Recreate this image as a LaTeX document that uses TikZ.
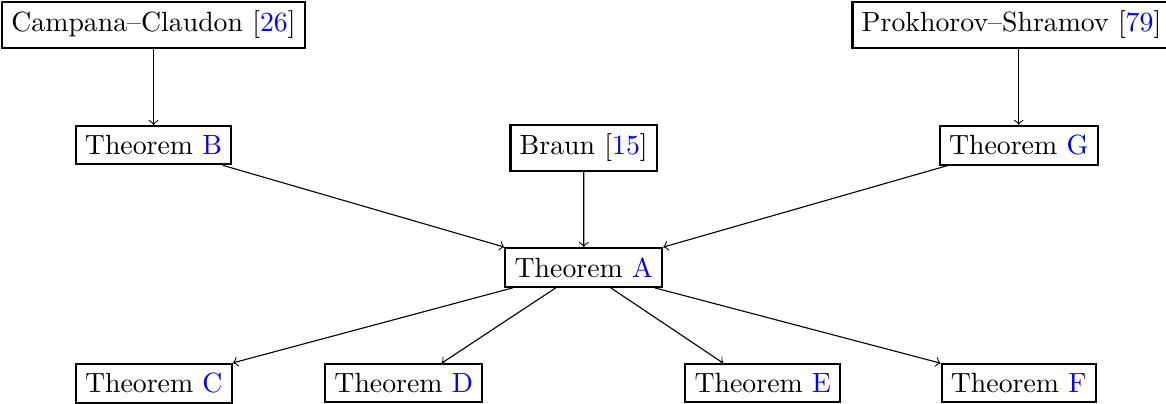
\documentclass[tikz,border=0pt]{standalone}
\begin{document}
\begin{tikzpicture}[x=0.35971pt,y=-0.35971pt,
  box/.style={draw,line width=0.75pt,inner sep=3.33pt},
  link/.style={->,line width=0.4pt},
  ref/.style={}]
\useasboundingbox (0,0) rectangle (1166,404);
\node[box] (cc) at (153.5,25) {Campana--Claudon [\textcolor{blue}{26}]};
\node[box] (ps) at (1011.5,25) {Prokhorov--Shramov [\textcolor{blue}{79}]};
\node[box] (B) at (153.5,145.2) {Theorem \textcolor{blue}{B}};
\node[box] (br) at (583.7,148) {Braun [\textcolor{blue}{15}]};
\node[box] (G) at (1018.7,145.2) {Theorem \textcolor{blue}{G}};
\node[box] (A) at (583.8,267.5) {Theorem \textcolor{blue}{A}};
\node[box] (C) at (153.8,383.3) {Theorem \textcolor{blue}{C}};
\node[box] (D) at (403.8,383.3) {Theorem \textcolor{blue}{D}};
\node[box] (E) at (762.8,383.3) {Theorem \textcolor{blue}{E}};
\node[box] (F) at (1018.7,383.3) {Theorem \textcolor{blue}{F}};
\draw[link] (cc) -- (B);
\draw[link] (ps.south -| G.north) -- (G.north);
\draw[link] (br) -- (A);
\draw[link] (B) -- (A.north west);
\draw[link] (G) -- (A.north east);
\draw[link] (A.196) -- (C.north east);
\draw[link] (A.216) -- (D.28);
\draw[link] (A.323) -- (E.153);
\draw[link] (A.344) -- (F.north west);
\end{tikzpicture}
\end{document}
